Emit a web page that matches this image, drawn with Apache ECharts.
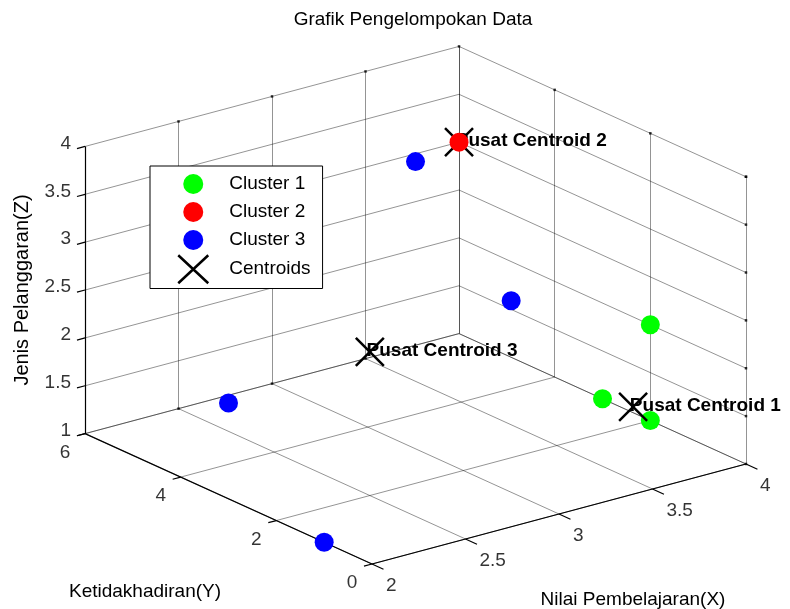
<!DOCTYPE html>
<html>
<head>
<meta charset="utf-8">
<script src="https://cdn.jsdelivr.net/npm/echarts@6/dist/echarts.min.js"></script>
<style>html,body{margin:0;padding:0;background:#fff}#chart{width:790px;height:609px}</style>
</head>
<body>
<div id="chart"></div>
<script>
// ---------------- data ----------------
const xTicks = [2, 2.5, 3, 3.5, 4];
const yTicks = [0, 2, 4, 6];
const zTicks = [1, 1.5, 2, 2.5, 3, 3.5, 4];
const xTickLabels = ['2', '2.5', '3', '3.5', '4'];
const yTickLabels = ['0', '2', '4', '6'];
const zTickLabels = ['1', '1.5', '2', '2.5', '3', '3.5', '4'];

const cluster1X = [4, 4, 4];
const cluster1Y = [2, 3, 2];
const cluster1Z = [2, 1, 1];

const cluster2X = [4];
const cluster2Y = [6];
const cluster2Z = [3];

const cluster3X = [3, 3, 2, 2];
const cluster3Y = [3, 1, 3, 1];
const cluster3Z = [4, 3, 2, 1];

const centroidX = [4, 4, 2.5];
const centroidY = [2.36, 6, 2];
const centroidZ = [1.06, 3, 2.5];
const centroidNames = ['Pusat Centroid 1', 'Pusat Centroid 2', 'Pusat Centroid 3'];

const seriesNames = ['Cluster 1', 'Cluster 2', 'Cluster 3', 'Centroids'];
const titleText = 'Grafik Pengelompokan Data';
const xName = 'Nilai Pembelajaran(X)';
const yName = 'Ketidakhadiran(Y)';
const zName = 'Jenis Pelanggaran(Z)';

// ---------------- 3D view (orthographic projection) ----------------
const xLim = [2, 4], yLim = [0, 6], zLim = [1, 4];
const AZ = -37.5 * Math.PI / 180;
const EL = 20.4 * Math.PI / 180;
const ASPECT = [1, 1, 0.65];
const W = 790, H = 609;
const K = 471.4;              // px per projected unit
const ORIGIN = [372, 564];    // pixel of the (xmin, ymin, zmin) corner

function proj(x, y, z) {
  const u = (x - xLim[0]) / (xLim[1] - xLim[0]) * ASPECT[0];
  const v = (y - yLim[0]) / (yLim[1] - yLim[0]) * ASPECT[1];
  const w = (z - zLim[0]) / (zLim[1] - zLim[0]) * ASPECT[2];
  const sx = u * Math.cos(AZ) + v * Math.sin(AZ);
  const sy = (-u * Math.sin(AZ) + v * Math.cos(AZ)) * Math.sin(EL) + w * Math.cos(EL);
  return [sx, sy];
}
function pts(X, Y, Z) { return X.map((x, i) => proj(x, Y[i], Z[i])); }

const FONT = "'Liberation Sans', Arial, Helvetica, sans-serif";

// grid lines on the three back planes
const gridSegs = [];
function seg(arr, a, b) { arr.push({ coords: [proj(a[0], a[1], a[2]), proj(b[0], b[1], b[2])] }); }
xTicks.forEach(x => seg(gridSegs, [x, yLim[0], zLim[0]], [x, yLim[1], zLim[0]]));
yTicks.forEach(y => seg(gridSegs, [xLim[0], y, zLim[0]], [xLim[1], y, zLim[0]]));
xTicks.forEach(x => seg(gridSegs, [x, yLim[1], zLim[0]], [x, yLim[1], zLim[1]]));
zTicks.forEach(z => seg(gridSegs, [xLim[0], yLim[1], z], [xLim[1], yLim[1], z]));
yTicks.forEach(y => seg(gridSegs, [xLim[1], y, zLim[0]], [xLim[1], y, zLim[1]]));
zTicks.forEach(z => seg(gridSegs, [xLim[1], yLim[0], z], [xLim[1], yLim[1], z]));

// axis lines and tick marks
const axisSegs = [];
seg(axisSegs, [xLim[0], yLim[0], zLim[0]], [xLim[1], yLim[0], zLim[0]]);
seg(axisSegs, [xLim[0], yLim[0], zLim[0]], [xLim[0], yLim[1], zLim[0]]);
seg(axisSegs, [xLim[0], yLim[1], zLim[0]], [xLim[0], yLim[1], zLim[1]]);
const dX = 0.043, dY = 0.24;
zTicks.forEach(z => seg(axisSegs, [xLim[0], yLim[1], z], [xLim[0] - dX, yLim[1], z]));
yTicks.forEach(y => seg(axisSegs, [xLim[0], y, zLim[0]], [xLim[0] - dX, y, zLim[0]]));
xTicks.forEach(x => seg(axisSegs, [x, yLim[0], zLim[0]], [x, yLim[0] - dY, zLim[0]]));

// tiny tick marks at the far ends of the grid
const farTicks = [];
xTicks.slice(1).forEach(x => farTicks.push(proj(x, yLim[1], zLim[1])));
xTicks.slice(1, -1).forEach(x => farTicks.push(proj(x, yLim[1], zLim[0])));
yTicks.slice(0, -1).forEach(y => farTicks.push(proj(xLim[1], y, zLim[1])));
zTicks.forEach(z => farTicks.push(proj(xLim[1], yLim[0], z)));

function tickLabelSeries(points, labels, align, offset) {
  return {
    type: 'scatter', silent: true, symbolSize: 0.01, z: 5,
    data: points.map((p, i) => ({ value: p, name: labels[i] })),
    label: {
      show: true, position: 'inside', formatter: p => p.name,
      align: align, verticalAlign: 'middle', offset: offset,
      fontSize: 19, fontFamily: FONT, color: '#000'
    }
  };
}

const circleIcon = 'path://M0,0M28,28M24,14A10,10,0,1,1,4,14A10,10,0,1,1,24,14Z';
const crossIcon = 'path://M0,0L30,28M30,0L0,28';

const option = {
  animation: false,
  backgroundColor: '#fff',
  grid: { left: 0, right: 0, top: 0, bottom: 0, containLabel: false },
  xAxis: { type: 'value', min: -ORIGIN[0] / K, max: (W - ORIGIN[0]) / K, show: false },
  yAxis: { type: 'value', min: -(H - ORIGIN[1]) / K, max: ORIGIN[1] / K, show: false },
  legend: {
    orient: 'vertical', left: 150, top: 166,
    padding: [4, 12, 4, 27], itemWidth: 62, itemHeight: 28, itemGap: 0,
    borderColor: '#000', borderWidth: 1, borderRadius: 0, backgroundColor: '#fff',
    textStyle: { fontSize: 19, fontFamily: FONT, color: '#000', lineHeight: 28 },
    selectedMode: false, z: 20,
    data: [
      { name: seriesNames[0], icon: circleIcon },
      { name: seriesNames[1], icon: circleIcon },
      { name: seriesNames[2], icon: circleIcon },
      { name: seriesNames[3], icon: crossIcon,
        itemStyle: { color: 'rgba(0,0,0,0)', borderColor: '#000', borderWidth: 2.5 } }
    ]
  },
  graphic: [
    { type: 'text', x: 413, y: 20, silent: true,
      style: { text: titleText, fontSize: 19, fontFamily: FONT, fill: '#000', align: 'center', verticalAlign: 'middle' } },
    { type: 'text', x: 22, y: 290, rotation: Math.PI / 2, silent: true,
      style: { text: zName, fontSize: 20, fontFamily: FONT, fill: '#000', align: 'center', verticalAlign: 'middle' } },
    { type: 'text', x: 145, y: 592, silent: true,
      style: { text: yName, fontSize: 19, fontFamily: FONT, fill: '#000', align: 'center', verticalAlign: 'middle' } },
    { type: 'text', x: 633, y: 600, silent: true,
      style: { text: xName, fontSize: 19, fontFamily: FONT, fill: '#000', align: 'center', verticalAlign: 'middle' } }
  ],
  series: [
    { type: 'lines', coordinateSystem: 'cartesian2d', silent: true, z: 1,
      lineStyle: { color: 'rgba(0,0,0,0.42)', width: 1, opacity: 1, curveness: 0 },
      data: gridSegs },
    { type: 'lines', coordinateSystem: 'cartesian2d', silent: true, z: 2,
      lineStyle: { color: '#000', width: 1.2, opacity: 1, curveness: 0 },
      data: axisSegs },
    { type: 'scatter', silent: true, z: 2, symbol: 'rect', symbolSize: [2.5, 2.5],
      itemStyle: { color: '#000' }, data: farTicks },
    tickLabelSeries(zTicks.map(z => proj(xLim[0], yLim[1], z)), zTickLabels, 'right', [-14, -3]),
    tickLabelSeries(yTicks.map(y => proj(xLim[0], y, zLim[0])), yTickLabels, 'center', [-20, 19]),
    tickLabelSeries(xTicks.map(x => proj(x, yLim[0], zLim[0])), xTickLabels, 'left', [14, 21.5]),
    { name: seriesNames[0], type: 'scatter', silent: true, z: 3, symbol: 'circle', symbolSize: 19,
      itemStyle: { color: '#00ff00', opacity: 1 }, data: pts(cluster1X, cluster1Y, cluster1Z) },
    { name: seriesNames[2], type: 'scatter', silent: true, z: 3, symbol: 'circle', symbolSize: 19,
      itemStyle: { color: '#0000ff', opacity: 1 }, data: pts(cluster3X, cluster3Y, cluster3Z) },
    { name: seriesNames[3], type: 'scatter', silent: true, z: 4,
      symbol: 'path://M0,0L1,1M1,0L0,1', symbolSize: 28,
      itemStyle: { color: 'rgba(0,0,0,0)', borderColor: '#000', borderWidth: 2.5, opacity: 1 },
      data: pts(centroidX, centroidY, centroidZ).map((p, i) => ({ value: p, name: centroidNames[i] })),
      label: { show: true, position: [14, 14], formatter: p => p.name, align: 'left', verticalAlign: 'middle',
        offset: [-2, 0], fontSize: 19, fontWeight: 'bold', fontFamily: FONT, color: '#000' } },
    { name: seriesNames[1], type: 'scatter', silent: true, z: 6, symbol: 'circle', symbolSize: 19,
      itemStyle: { color: '#ff0000', opacity: 1 }, data: pts(cluster2X, cluster2Y, cluster2Z) }
  ]
};

const chart = echarts.init(document.getElementById('chart'), null, { renderer: 'canvas' });
chart.setOption(option);
</script>
</body>
</html>
